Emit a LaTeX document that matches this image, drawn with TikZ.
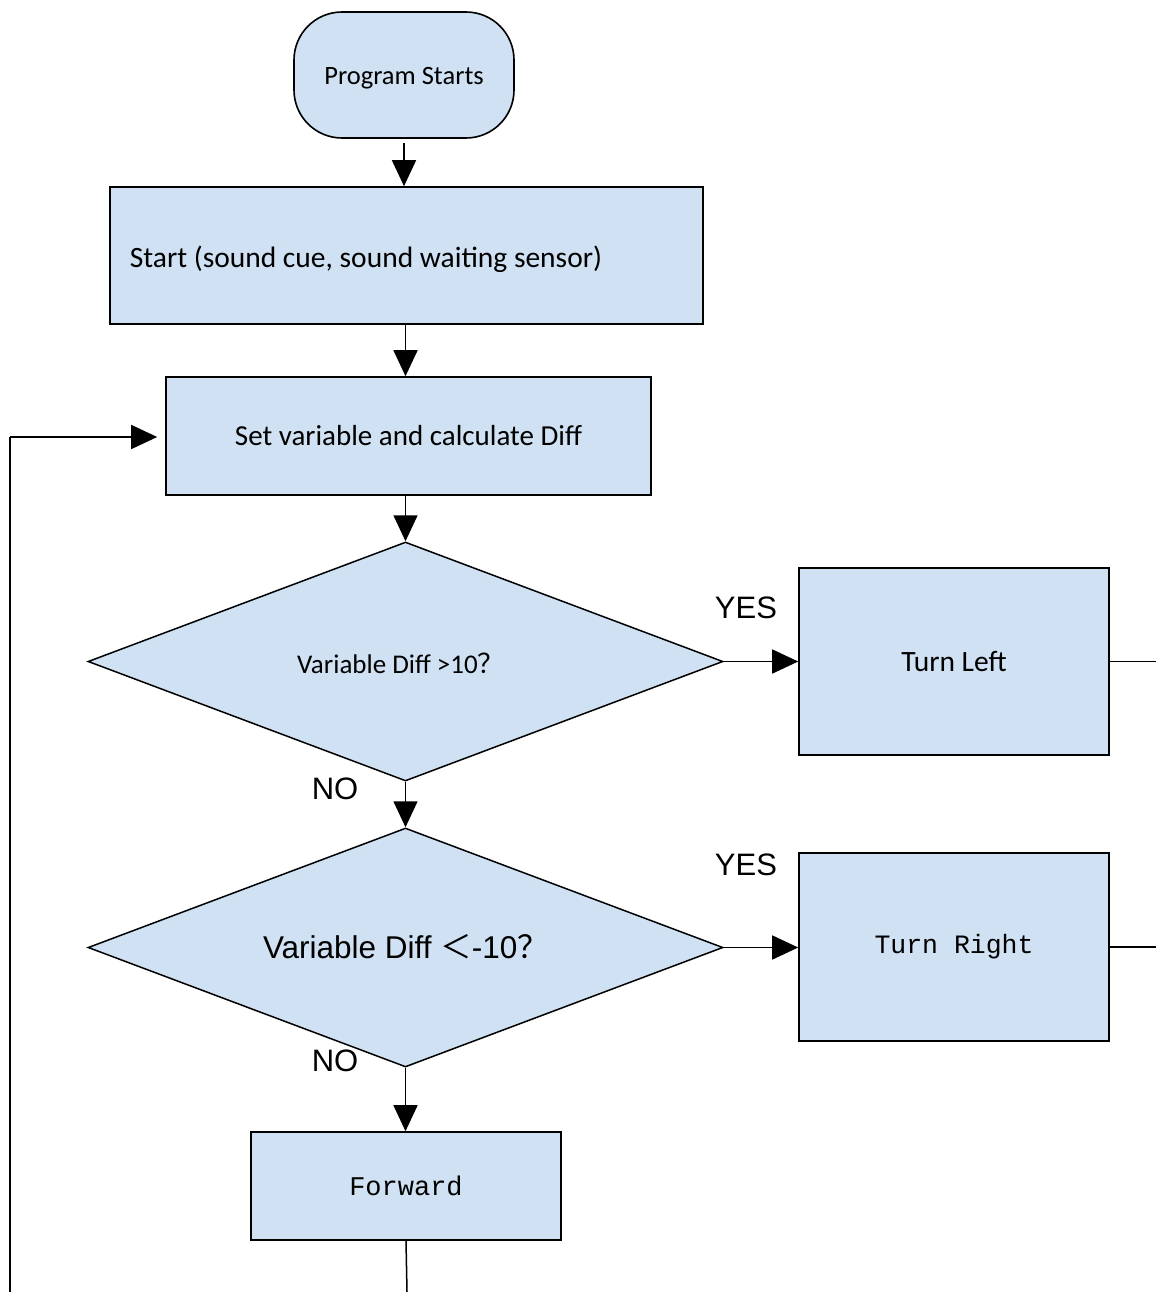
\documentclass[tikz,border=0pt]{standalone}
\usepackage{fontspec}
\setmainfont{Carlito}
\newfontfamily\fari{Liberation Sans}
\newfontfamily\fmono{Liberation Mono}
\newfontfamily\fcjk{Noto Sans CJK SC}
\usetikzlibrary{arrows.meta,shapes.geometric}
\definecolor{boxfill}{HTML}{CFE1F2}
\tikzset{
  box/.style={draw=black, line width=1.6pt, fill=boxfill, inner sep=0pt, align=center},
  term/.style={box, rounded corners=48pt},
  dia/.style={draw=black, line width=1.5pt, fill=boxfill, diamond, inner sep=0pt, aspect=2.657, minimum width=635pt, minimum height=239pt},
  arr/.style={line width=1.6pt, -{Triangle[length=26pt,width=24pt]}},
  ln/.style={line width=1.5pt},
  lab/.style={font=\fari\fontsize{31}{35}\selectfont, inner sep=0pt}
}
\begin{document}
\begin{tikzpicture}[x=1pt,y=-1pt]
\useasboundingbox (0,0) rectangle (1156,1292);
\node[term, minimum width=220pt, minimum height=126pt, text height=22pt, text depth=3pt, font=\fontsize{26.5}{30}\selectfont] (ps) at (404,75) {Program Starts};
\node[box, minimum width=593pt, minimum height=137pt, inner xsep=20pt, text height=25pt, text depth=2pt, font=\fontsize{29.5}{33}\selectfont, anchor=west] (st) at (109,255.5) {\makebox[553pt][l]{Start (sound cue, sound waiting sensor)}};
\node[box, minimum width=485pt, minimum height=118pt, font=\fontsize{29}{33}\selectfont] (sv) at (408.5,436) {Set variable and calculate Diff};
\node[dia] (d1) at (405.5,661.5) {};
\node[font=\fontsize{27}{31}\selectfont] (d1t) at (401,663) {Variable Diff >10\fcjk ？};
\node[box, minimum width=310pt, minimum height=187pt, font=\fontsize{29.5}{33}\selectfont] (tl) at (954,661.5) {Turn Left};
\node[dia] (d2) at (405.5,947.5) {};
\node[font=\fari\fontsize{31.5}{35}\selectfont] (d2t) at (406,947) {Variable Diff {\fcjk ＜}-10{\fcjk ？}};
\node[box, minimum width=310pt, minimum height=188pt, font=\fmono\fontsize{26.5}{30}\selectfont] (tr) at (954,947) {Turn Right};
\node[box, minimum width=310pt, minimum height=108pt, font=\fmono\fontsize{27}{31}\selectfont] (fw) at (406,1186) {Forward};
\node[lab] (y1) at (746,608) {YES};
\node[lab] (y2) at (746,865) {YES};
\node[lab] (n1) at (335,789) {NO};
\node[lab] (n2) at (335,1061) {NO};
\coordinate (r1) at (1156,661.5);
\coordinate (r2) at (1156,947);
\coordinate (bot) at (407,1292);
\coordinate (lb) at (10,1292);
\coordinate (lt) at (10,437);
\draw[arr] ([yshift=-4pt]ps.south) -- (st.north -| ps.south);
\draw[arr] (st.south -| sv.north) ++(-3,0) -- ([xshift=-3pt]sv.north);
\draw[arr] (sv.south -| d1.north) -- (d1.north);
\draw[arr] (d1.east) -- (d1.east -| tl.west);
\draw[arr] (d1.south) -- (d2.north);
\draw[arr] (d2.east) -- (d2.east -| tr.west);
\draw[arr] (d2.south) -- (d2.south |- fw.north);
\draw[ln] (tl.east) -- (r1);
\draw[ln] (tr.east) -- (r2);
\draw[ln] (fw.south) -- (bot);
\draw[ln] (lb) -- (lt);
\draw[arr, shorten >=8pt] (lt) -- (lt -| sv.west);
\end{tikzpicture}
\end{document}
